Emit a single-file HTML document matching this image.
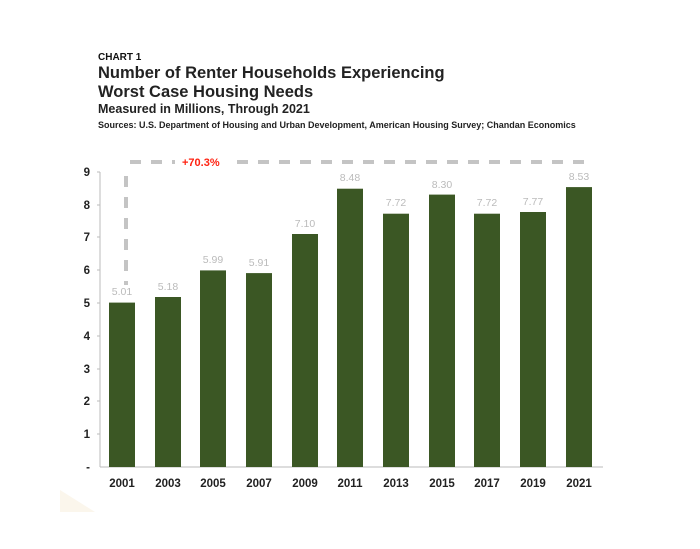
<!DOCTYPE html>
<html><head><meta charset="utf-8"><style>
body{margin:0;background:#fff;}
svg{display:block;font-family:"Liberation Sans",Arial,sans-serif;}
</style></head><body>
<svg width="700" height="549" viewBox="0 0 700 549">
<polygon points="60,490 60,512 95,512" fill="#fbf6ec"/>
<text x="98" y="60" font-size="10" font-weight="bold" fill="#111">CHART 1</text>
<text x="98" y="78" font-size="16.5" font-weight="bold" fill="#222">Number of Renter Households Experiencing</text>
<text x="98" y="97" font-size="16.5" font-weight="bold" fill="#222">Worst Case Housing Needs</text>
<text x="98" y="113" font-size="12.5" font-weight="bold" fill="#222">Measured in Millions, Through 2021</text>
<text x="98" y="128" font-size="9" font-weight="bold" fill="#222">Sources: U.S. Department of Housing and Urban Development, American Housing Survey; Chandan Economics</text>
<g stroke="#bbb" stroke-width="1">
<line x1="100" y1="172" x2="100" y2="467"/>
<line x1="100" y1="467" x2="603" y2="467"/>
</g>
<g stroke="#bbb"><line x1="97" y1="172" x2="100" y2="172"/><line x1="97" y1="205" x2="100" y2="205"/><line x1="97" y1="237" x2="100" y2="237"/><line x1="97" y1="270" x2="100" y2="270"/><line x1="97" y1="303" x2="100" y2="303"/><line x1="97" y1="336" x2="100" y2="336"/><line x1="97" y1="369" x2="100" y2="369"/><line x1="97" y1="401" x2="100" y2="401"/><line x1="97" y1="434" x2="100" y2="434"/></g>
<g font-size="11.5" font-weight="bold" fill="#222" text-anchor="end">
<text x="90" y="176">9</text><text x="90" y="209">8</text><text x="90" y="241">7</text><text x="90" y="274">6</text><text x="90" y="307">5</text><text x="90" y="340">4</text><text x="90" y="373">3</text><text x="90" y="405">2</text><text x="90" y="438">1</text><text x="90" y="471">-</text>
</g>
<g fill="#3b5724">
<rect x="109" y="302.6" width="26" height="164.4"/>
<rect x="155" y="297.0" width="26" height="170"/>
<rect x="200" y="270.4" width="26" height="196.6"/>
<rect x="246" y="273.1" width="26" height="193.9"/>
<rect x="292" y="234.0" width="26" height="233"/>
<rect x="337" y="188.7" width="26" height="278.3"/>
<rect x="383" y="213.7" width="26" height="253.3"/>
<rect x="429" y="194.6" width="26" height="272.4"/>
<rect x="474" y="213.7" width="26" height="253.3"/>
<rect x="520" y="212.0" width="26" height="255"/>
<rect x="566" y="187.1" width="26" height="279.9"/>
</g>
<g font-size="10.5" fill="#bbb" text-anchor="middle">
<text x="122" y="295">5.01</text><text x="168" y="290">5.18</text><text x="213" y="263">5.99</text><text x="259" y="266">5.91</text><text x="305" y="227">7.10</text><text x="350" y="181">8.48</text><text x="396" y="206">7.72</text><text x="442" y="188">8.30</text><text x="487" y="206">7.72</text><text x="533" y="205">7.77</text><text x="579" y="180">8.53</text>
</g>
<g font-size="11.5" font-weight="bold" fill="#222" text-anchor="middle">
<text x="122" y="487">2001</text><text x="168" y="487">2003</text><text x="213" y="487">2005</text><text x="259" y="487">2007</text><text x="305" y="487">2009</text><text x="350" y="487">2011</text><text x="396" y="487">2013</text><text x="442" y="487">2015</text><text x="487" y="487">2017</text><text x="533" y="487">2019</text><text x="579" y="487">2021</text>
</g>
<g stroke="#c4c4c4" stroke-width="4" stroke-dasharray="11,10" fill="none">
<line x1="130" y1="162" x2="175" y2="162"/>
<line x1="237" y1="162" x2="590" y2="162"/>
<line x1="126" y1="176" x2="126" y2="285"/>
</g>
<text x="182" y="166" font-size="11" font-weight="bold" fill="#f21">+70.3%</text>
</svg>
</body></html>
